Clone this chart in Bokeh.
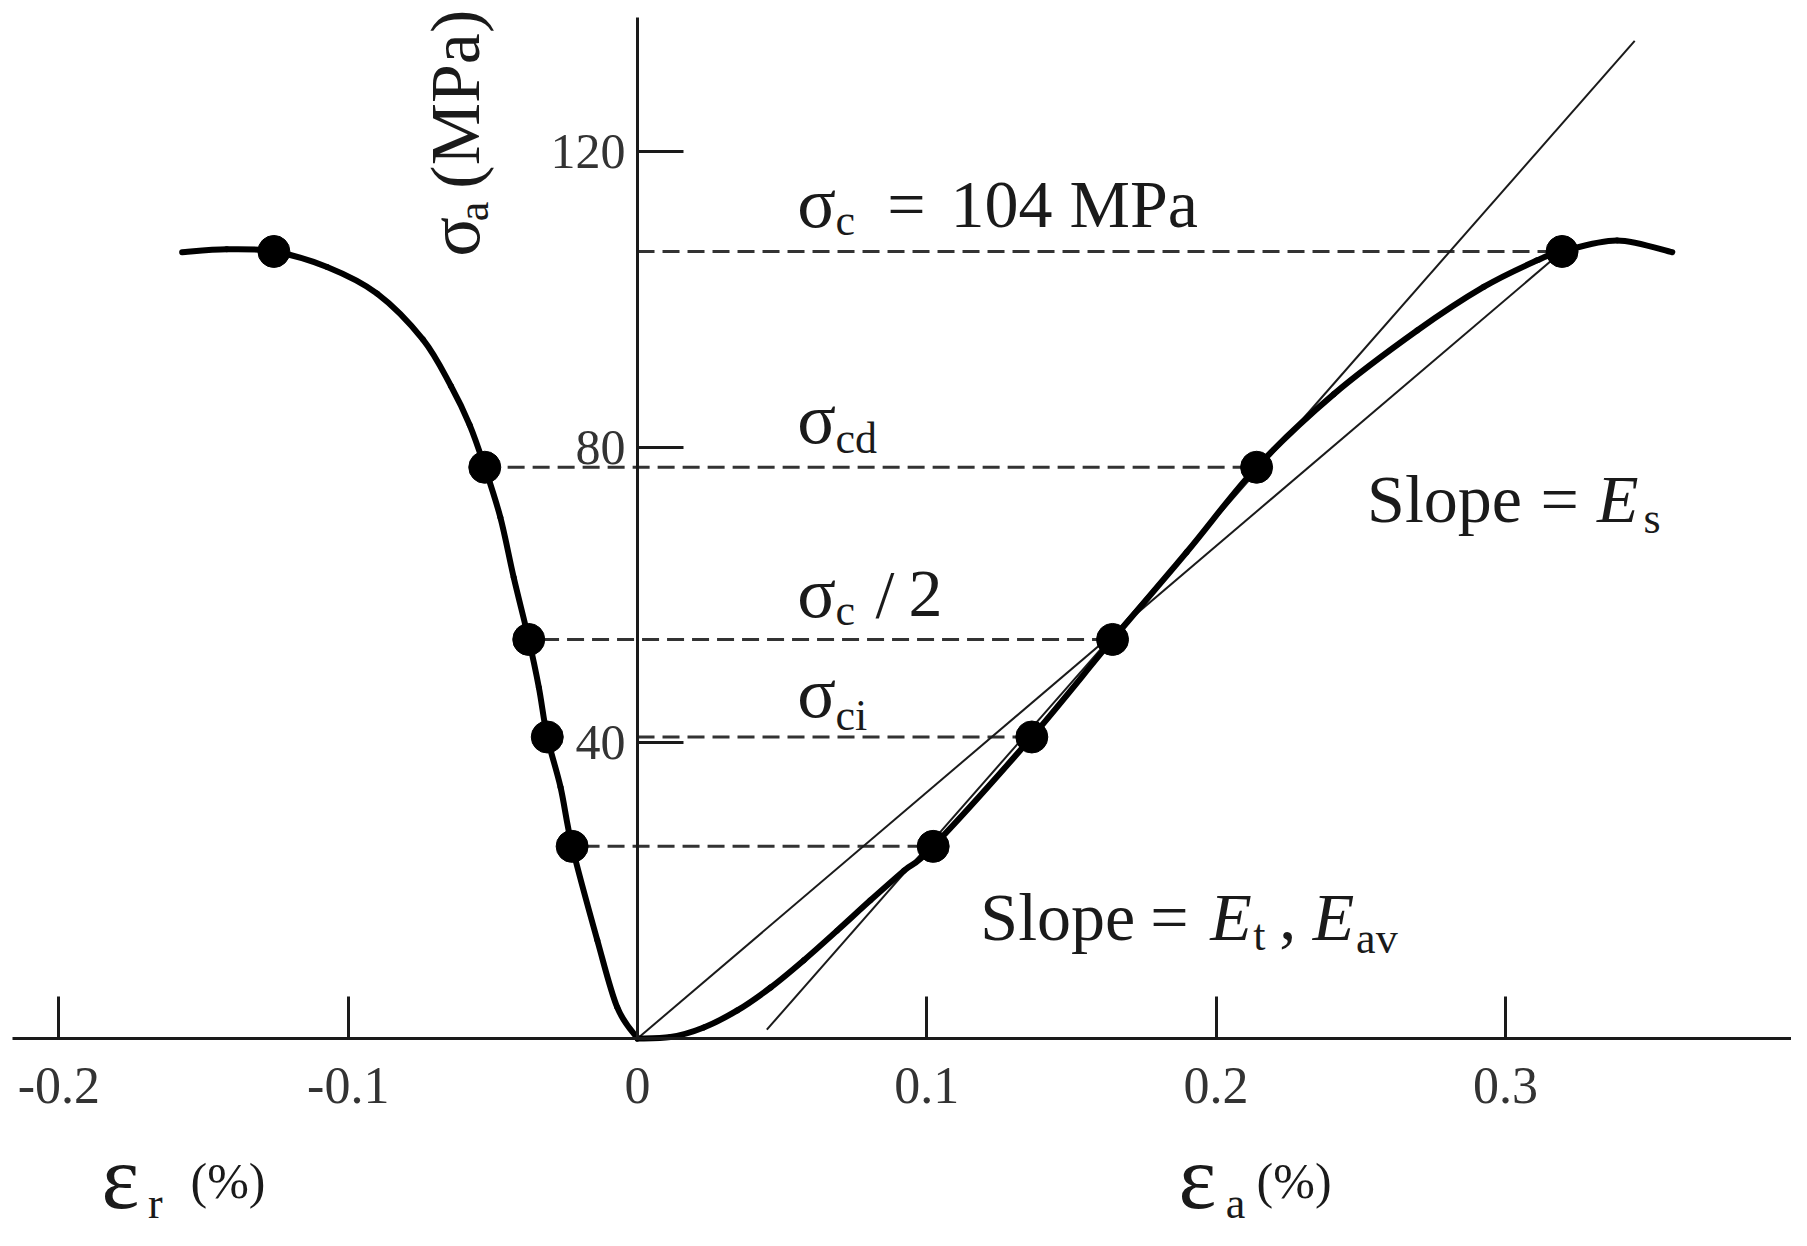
import math
from bokeh.plotting import figure
from bokeh.models import Range1d, FixedTicker, CustomJSTickFormatter
from bokeh.core.properties import value
from bokeh.embed import file_html
from bokeh.resources import INLINE

# ---------------- data ----------------
x_ticks = [-0.2, -0.1, 0.0, 0.1, 0.2, 0.3]
y_ticks = [40, 80, 120]

axial_strain = [0.0, 0.0114, 0.0229, 0.0345, 0.0460, 0.0575, 0.0690, 0.0805, 0.0921,
                0.1022, 0.1363, 0.1642, 0.1898, 0.2140, 0.2407, 0.2695, 0.2925,
                0.3110, 0.3196, 0.3386, 0.3577]
axial_stress = [0.0, 0.2, 1.5, 3.8, 6.9, 10.6, 14.6, 18.7, 22.7,
                26.0, 40.8, 54.0, 65.8, 77.3, 87.2, 95.8, 101.7,
                105.3, 106.5, 108.0, 106.4]

radial_strain = [0.0, -0.0070, -0.0139, -0.0226, -0.0266, -0.0312, -0.0341, -0.0376,
                 -0.0428, -0.0474, -0.0528, -0.0580, -0.0645, -0.0742, -0.0900,
                 -0.1073, -0.1257, -0.1420, -0.1574]
radial_stress = [0.0, 4.2, 13.3, 26.0, 34.0, 40.8, 47.5, 54.0,
                 62.4, 70.5, 77.3, 83.0, 88.3, 94.6, 100.8,
                 104.4, 106.5, 106.8, 106.4]

level_stress = [26.0, 40.8, 54.0, 77.3, 106.5]
level_axial = [0.1022, 0.1363, 0.1642, 0.2140, 0.3196]
level_radial = [-0.0226, -0.0312, -0.0376, -0.0528, -0.1257]
level_dash_start = [-0.0190, 0.0, -0.0330, -0.0449, 0.0]

tangent_strain = [0.0447, 0.3447]
tangent_stress = [1.2, 135.0]
secant_strain = [0.0, 0.3196]
secant_stress = [0.0, 106.5]

# ---------------- figure ----------------
W, H = 1791, 1230
X0, X1 = -0.2202, 0.3989
Y0, Y1 = -25.98, 140.46
PXX = W / (X1 - X0)
PXY = H / (Y1 - Y0)

p = figure(width=W, height=H, x_range=Range1d(X0, X1), y_range=Range1d(Y0, Y1),
           output_backend="svg", toolbar_location=None, min_border=0)
p.outline_line_color = None
p.grid.visible = False
p.background_fill_color = "white"

FONT = "Liberation Serif"
INK = "#1a1a1a"

# axes crossing at the origin
p.xaxis.fixed_location = 0
p.yaxis.fixed_location = 0
p.xaxis.ticker = FixedTicker(ticks=x_ticks)
p.yaxis.ticker = FixedTicker(ticks=y_ticks)
p.xaxis.formatter = CustomJSTickFormatter(code="return tick == 0 ? '0' : tick.toFixed(1);")
p.xaxis.bounds = (-0.2162, X1)
p.yaxis.bounds = (0, 138.2)
for ax in (p.xaxis, p.yaxis):
    ax.axis_line_width = 3
    ax.axis_line_color = INK
    ax.major_tick_line_width = 3
    ax.major_tick_line_color = INK
    ax.major_tick_out = 0
    ax.minor_tick_line_color = None
    ax.major_label_text_font = FONT
    ax.major_label_text_color = "#333333"
p.xaxis.major_label_text_font_size = "52px"
p.yaxis.major_label_text_font_size = "50px"
p.xaxis.major_tick_in = 42
p.yaxis.major_tick_in = 46
p.xaxis.major_label_standoff = 29
p.yaxis.major_label_standoff = 12

# dashed stress levels
for ys, xa, xs in zip(level_stress, level_axial, level_dash_start):
    p.line([xs, xa], [ys, ys], line_color="#333333", line_width=3, line_dash="17 8")

# tangent & secant
p.line(tangent_strain, tangent_stress, line_color=INK, line_width=2)
p.line(secant_strain, secant_stress, line_color=INK, line_width=2)


def smooth_curve(xs, ys):
    """Draw a smooth (Catmull-Rom) curve through the read points with bezier segments."""
    n = len(xs)
    x0, y0, x1, y1, cx0, cy0, cx1, cy1 = ([] for _ in range(8))
    for i in range(n - 1):
        im, ip2 = max(i - 1, 0), min(i + 2, n - 1)
        x0.append(xs[i]); y0.append(ys[i])
        x1.append(xs[i + 1]); y1.append(ys[i + 1])
        cx0.append(xs[i] + (xs[i + 1] - xs[im]) / 6.0)
        cy0.append(ys[i] + (ys[i + 1] - ys[im]) / 6.0)
        cx1.append(xs[i + 1] - (xs[ip2] - xs[i]) / 6.0)
        cy1.append(ys[i + 1] - (ys[ip2] - ys[i]) / 6.0)
    p.bezier(x0=x0, y0=y0, x1=x1, y1=y1, cx0=cx0, cy0=cy0, cx1=cx1, cy1=cy1,
             line_color="black", line_width=6, line_cap="round")


# curves
smooth_curve(axial_strain, axial_stress)
smooth_curve(radial_strain, radial_stress)

# points
p.scatter(level_axial, level_stress, size=32, color="black")
p.scatter(level_radial, level_stress, size=32, color="black")

MAIN = 68
SIG = 72
SUB = 44
K = 0.34  # baseline correction (em)


def txt(x, y, s, size, italic=False, rotated=False):
    if rotated:
        x = x - K * size / PXX
        ang = math.pi / 2
    else:
        y = y + K * size / PXY
        ang = 0.0
    p.text(x=[x], y=[y], text=[s], text_font=value(FONT), text_font_size=f"{size}px",
           text_font_style="italic" if italic else "normal", text_color=INK,
           text_align="left", text_baseline="alphabetic", angle=ang)


# sigma_c = 104 MPa
txt(0.0552, 109.8, "σ", SIG)
txt(0.0684, 108.7, "c", SUB)
txt(0.0863, 109.8, "=", MAIN)
txt(0.1082, 109.8, "104 MPa", MAIN)
# sigma_cd
txt(0.0552, 80.5, "σ", SIG)
txt(0.0684, 79.1, "cd", SUB)
# sigma_c / 2
txt(0.0552, 57.0, "σ", SIG)
txt(0.0684, 55.9, "c", SUB)
txt(0.0823, 57.0, "/", MAIN)
txt(0.0937, 57.0, "2", MAIN)
# sigma_ci
txt(0.0552, 43.5, "σ", SIG)
txt(0.0684, 41.7, "ci", SUB)

# Slope = E_s
txt(0.2522, 69.9, "Slope", MAIN)
txt(0.3121, 69.9, "=", MAIN)
txt(0.3317, 69.9, "E", MAIN, italic=True)
txt(0.3477, 68.3, "s", SUB)

# Slope = E_t , E_av
txt(0.1185, 13.3, "Slope", MAIN)
txt(0.1772, 13.3, "=", MAIN)
txt(0.1980, 13.3, "E", MAIN, italic=True)
txt(0.2128, 11.9, "t", SUB)
txt(0.2218, 13.3, ",", MAIN)
txt(0.2334, 13.3, "E", MAIN, italic=True)
txt(0.2484, 11.5, "av", SUB)

# y axis title (rotated)
txt(-0.0546, 105.8, "σ", 74, rotated=True)
txt(-0.0516, 110.6, "a", SUB, rotated=True)
txt(-0.0546, 115.0, "(MPa)", 70, rotated=True)

# strain titles
txt(-0.1853, -23.0, "ε", 90)
txt(-0.1692, -24.4, "r", SUB)
txt(-0.1545, -21.6, "(%)", 50)
txt(0.1870, -23.0, "ε", 90)
txt(0.2033, -24.4, "a", SUB)
txt(0.2140, -21.6, "(%)", 50)

open("out.html", "w").write(file_html(p, INLINE))
